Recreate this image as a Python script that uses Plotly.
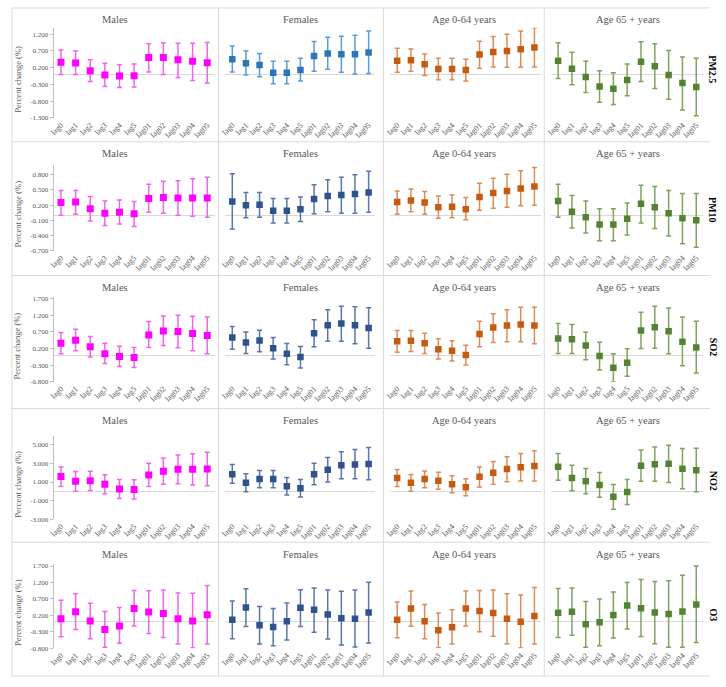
import plotly.graph_objects as go

lags = ["lag0", "lag1", "lag2", "lag3", "lag4", "lag5", "lag01", "lag02", "lag03", "lag04", "lag05"]
groups = ["Males", "Females", "Age 0-64 years", "Age 65 + years"]
pollutants = ["PM2.5", "PM10", "SO2", "NO2", "O3"]

# PM2.5
pm25_males = [0.36, 0.34, 0.11, -0.02, -0.05, -0.04, 0.50, 0.50, 0.44, 0.39, 0.35]
pm25_males_lo = [0.00, 0.00, -0.21, -0.36, -0.39, -0.38, 0.07, 0.00, -0.09, -0.18, -0.26]
pm25_males_hi = [0.73, 0.70, 0.44, 0.33, 0.29, 0.31, 0.91, 0.94, 0.93, 0.93, 0.95]
pm25_females = [0.45, 0.33, 0.28, 0.05, 0.05, 0.13, 0.55, 0.62, 0.60, 0.60, 0.65]
pm25_females_lo = [0.07, -0.02, -0.07, -0.28, -0.28, -0.20, 0.09, 0.15, 0.06, 0.01, 0.03]
pm25_females_hi = [0.85, 0.70, 0.62, 0.39, 0.39, 0.48, 0.98, 1.11, 1.14, 1.17, 1.29]
pm25_age064 = [0.41, 0.42, 0.30, 0.16, 0.16, 0.13, 0.59, 0.67, 0.70, 0.75, 0.80]
pm25_age064_lo = [0.06, 0.09, -0.03, -0.16, -0.16, -0.20, 0.18, 0.22, 0.21, 0.21, 0.22]
pm25_age064_hi = [0.78, 0.76, 0.61, 0.48, 0.48, 0.45, 0.99, 1.13, 1.20, 1.29, 1.39]
pm25_age65 = [0.41, 0.17, -0.08, -0.36, -0.43, -0.17, 0.38, 0.24, -0.02, -0.26, -0.38]
pm25_age65_lo = [-0.12, -0.31, -0.54, -0.83, -0.90, -0.64, -0.21, -0.42, -0.74, -1.06, -1.23]
pm25_age65_hi = [0.94, 0.66, 0.39, 0.11, 0.05, 0.31, 0.97, 0.91, 0.71, 0.52, 0.48]

# PM10
pm10_males = [0.25, 0.26, 0.13, 0.04, 0.06, 0.03, 0.33, 0.35, 0.34, 0.34, 0.34]
pm10_males_lo = [0.00, 0.02, -0.11, -0.20, -0.17, -0.22, 0.06, 0.04, 0.00, -0.02, -0.04]
pm10_males_hi = [0.49, 0.49, 0.37, 0.28, 0.30, 0.27, 0.61, 0.67, 0.68, 0.72, 0.75]
pm10_females = [0.27, 0.20, 0.21, 0.09, 0.09, 0.12, 0.32, 0.38, 0.40, 0.42, 0.45]
pm10_females_lo = [-0.27, -0.05, -0.04, -0.15, -0.15, -0.12, 0.03, 0.07, 0.04, 0.04, 0.06]
pm10_females_hi = [0.82, 0.45, 0.45, 0.33, 0.33, 0.36, 0.60, 0.70, 0.75, 0.80, 0.87]
pm10_age064 = [0.26, 0.29, 0.25, 0.16, 0.17, 0.12, 0.36, 0.44, 0.48, 0.53, 0.57]
pm10_age064_lo = [0.02, 0.07, 0.02, -0.06, -0.05, -0.09, 0.10, 0.14, 0.16, 0.19, 0.20]
pm10_age064_hi = [0.48, 0.52, 0.47, 0.38, 0.40, 0.35, 0.63, 0.73, 0.81, 0.88, 0.94]
pm10_age65 = [0.28, 0.07, -0.04, -0.18, -0.18, -0.07, 0.23, 0.16, 0.04, -0.06, -0.10]
pm10_age65_lo = [-0.04, -0.25, -0.35, -0.50, -0.50, -0.39, -0.15, -0.26, -0.41, -0.56, -0.63]
pm10_age65_hi = [0.61, 0.39, 0.28, 0.13, 0.13, 0.24, 0.59, 0.57, 0.49, 0.43, 0.43]

# SO2
so2_males = [0.36, 0.45, 0.25, 0.04, -0.04, -0.07, 0.61, 0.73, 0.71, 0.65, 0.59]
so2_males_lo = [0.04, 0.13, -0.06, -0.25, -0.34, -0.37, 0.23, 0.29, 0.22, 0.13, 0.04]
so2_males_hi = [0.68, 0.78, 0.56, 0.36, 0.27, 0.23, 1.01, 1.18, 1.20, 1.17, 1.15]
so2_females = [0.53, 0.38, 0.44, 0.21, 0.04, -0.06, 0.66, 0.90, 0.95, 0.90, 0.82]
so2_females_lo = [0.18, 0.05, 0.10, -0.12, -0.29, -0.39, 0.25, 0.42, 0.42, 0.34, 0.21]
so2_females_hi = [0.86, 0.70, 0.75, 0.53, 0.35, 0.26, 1.07, 1.37, 1.47, 1.46, 1.43]
so2_age064 = [0.42, 0.43, 0.36, 0.18, 0.13, 0.00, 0.64, 0.83, 0.89, 0.92, 0.89]
so2_age064_lo = [0.09, 0.11, 0.05, -0.12, -0.18, -0.30, 0.25, 0.38, 0.40, 0.40, 0.34]
so2_age064_hi = [0.74, 0.74, 0.66, 0.49, 0.43, 0.30, 1.02, 1.25, 1.37, 1.44, 1.44]
so2_age65 = [0.50, 0.48, 0.29, -0.03, -0.38, -0.23, 0.74, 0.84, 0.72, 0.40, 0.23]
so2_age65_lo = [0.05, 0.05, -0.14, -0.45, -0.80, -0.64, 0.20, 0.21, 0.04, -0.32, -0.54]
so2_age65_hi = [0.95, 0.92, 0.69, 0.39, 0.04, 0.19, 1.29, 1.47, 1.42, 1.15, 1.02]

# NO2
no2_males = [1.60, 1.07, 1.14, 0.75, 0.26, 0.19, 1.74, 2.16, 2.37, 2.37, 2.40]
no2_males_lo = [0.51, 0.02, 0.09, -0.26, -0.75, -0.82, 0.51, 0.75, 0.82, 0.68, 0.61]
no2_males_hi = [2.61, 2.12, 2.16, 1.77, 1.28, 1.25, 3.00, 3.56, 3.88, 4.02, 4.19]
no2_females = [1.84, 0.93, 1.32, 1.32, 0.54, 0.33, 1.84, 2.30, 2.79, 2.86, 2.93]
no2_females_lo = [0.86, -0.05, 0.40, 0.40, -0.40, -0.61, 0.72, 1.00, 1.35, 1.35, 1.25]
no2_females_hi = [2.86, 1.88, 2.23, 2.23, 1.49, 1.28, 3.00, 3.63, 4.23, 4.47, 4.68]
no2_age064 = [1.42, 0.93, 1.32, 1.14, 0.75, 0.44, 1.56, 1.98, 2.40, 2.58, 2.72]
no2_age064_lo = [0.51, 0.02, 0.40, 0.23, -0.16, -0.47, 0.47, 0.75, 1.04, 1.11, 1.11]
no2_age064_hi = [2.33, 1.81, 2.19, 2.05, 1.67, 1.35, 2.61, 3.18, 3.70, 4.05, 4.33]
no2_age65 = [2.62, 1.43, 1.08, 0.69, -0.57, -0.08, 2.73, 2.91, 2.94, 2.41, 2.27]
no2_age65_lo = [1.19, 0.06, -0.25, -0.64, -1.90, -1.41, 1.08, 1.08, 0.94, 0.27, -0.04]
no2_age65_hi = [4.06, 2.80, 2.45, 2.03, 0.73, 1.26, 4.41, 4.73, 4.94, 4.59, 4.62]

# O3
o3_males = [0.10, 0.31, 0.03, -0.23, -0.12, 0.41, 0.30, 0.26, 0.10, 0.03, 0.22]
o3_males_lo = [-0.45, -0.23, -0.51, -0.77, -0.65, -0.12, -0.35, -0.47, -0.67, -0.79, -0.67]
o3_males_hi = [0.66, 0.86, 0.57, 0.32, 0.44, 0.96, 0.95, 0.97, 0.88, 0.87, 1.11]
o3_females = [0.07, 0.44, -0.10, -0.15, 0.02, 0.43, 0.37, 0.23, 0.11, 0.10, 0.29]
o3_females_lo = [-0.51, -0.14, -0.67, -0.72, -0.55, -0.14, -0.31, -0.52, -0.70, -0.76, -0.64]
o3_females_hi = [0.64, 1.01, 0.47, 0.41, 0.58, 0.98, 1.03, 0.97, 0.93, 0.97, 1.21]
o3_age064 = [0.07, 0.41, 0.02, -0.25, -0.16, 0.41, 0.33, 0.27, 0.10, 0.01, 0.18]
o3_age064_lo = [-0.48, -0.13, -0.51, -0.78, -0.67, -0.12, -0.30, -0.43, -0.66, -0.79, -0.67]
o3_age064_hi = [0.61, 0.94, 0.53, 0.27, 0.37, 0.94, 0.96, 0.97, 0.86, 0.82, 1.05]
o3_age65 = [0.28, 0.31, -0.07, -0.01, 0.21, 0.50, 0.42, 0.29, 0.24, 0.32, 0.53]
o3_age65_lo = [-0.47, -0.40, -0.77, -0.72, -0.49, -0.21, -0.44, -0.66, -0.77, -0.77, -0.62]
o3_age65_hi = [1.02, 1.03, 0.62, 0.70, 0.91, 1.20, 1.29, 1.23, 1.25, 1.42, 1.70]

# y ticks per pollutant row
pm25_ticks = [-1.3, -0.8, -0.3, 0.2, 0.7, 1.2]
pm10_ticks = [-0.7, -0.4, -0.1, 0.2, 0.5, 0.8]
so2_ticks = [-0.8, -0.3, 0.2, 0.7, 1.2, 1.7]
no2_ticks = [-3.0, -1.0, 1.0, 3.0, 5.0]
o3_ticks = [-0.8, -0.3, 0.2, 0.7, 1.2, 1.7]

data = [
    [(pm25_males, pm25_males_lo, pm25_males_hi), (pm25_females, pm25_females_lo, pm25_females_hi),
     (pm25_age064, pm25_age064_lo, pm25_age064_hi), (pm25_age65, pm25_age65_lo, pm25_age65_hi)],
    [(pm10_males, pm10_males_lo, pm10_males_hi), (pm10_females, pm10_females_lo, pm10_females_hi),
     (pm10_age064, pm10_age064_lo, pm10_age064_hi), (pm10_age65, pm10_age65_lo, pm10_age65_hi)],
    [(so2_males, so2_males_lo, so2_males_hi), (so2_females, so2_females_lo, so2_females_hi),
     (so2_age064, so2_age064_lo, so2_age064_hi), (so2_age65, so2_age65_lo, so2_age65_hi)],
    [(no2_males, no2_males_lo, no2_males_hi), (no2_females, no2_females_lo, no2_females_hi),
     (no2_age064, no2_age064_lo, no2_age064_hi), (no2_age65, no2_age65_lo, no2_age65_hi)],
    [(o3_males, o3_males_lo, o3_males_hi), (o3_females, o3_females_lo, o3_females_hi),
     (o3_age064, o3_age064_lo, o3_age064_hi), (o3_age65, o3_age65_lo, o3_age65_hi)],
]
row_ticks = [pm25_ticks, pm10_ticks, so2_ticks, no2_ticks, o3_ticks]
row_ranges = [(-1.3, 1.39), (-0.7, 1.0), (-0.8, 1.74), (-3.0, 5.9), (-0.8, 1.76)]

W, H = 726, 687
FONT = "Liberation Serif"

def fx(x):
    return x / W

def fy(y):
    return 1 - y / H

# pixel layout of the panel grid
plot_top = [26, 164, 298, 438, 567]
plot_bot = [117, 251, 383, 522, 652]
col_span = [(49, 211), (222, 373), (388, 540), (550, 703)]
border_y = [6, 141, 276, 410, 545, 680]
border_x = [7, 215, 381, 543]
title_x = [111, 298, 462, 627]
label_y = [68, 210, 348, 483, 618]

marker_colors = ["#FF00FF", "#2F528F", "#C55A11", "#548235"]
error_colors = ["#EE66EE", "#5A76A6", "#DC8C58", "#7FA35F"]

fig = go.Figure()
layout = {}
annotations = []
shapes = []

for r in range(5):
    lo_r, hi_r = row_ranges[r]
    for c in range(4):
        n = r * 4 + c + 1
        est, lo, hi = data[r][c]
        mcol, ecol = marker_colors[c], error_colors[c]
        if r == 0 and c == 1:
            mcol, ecol = "#2E75B6", "#5B9BD5"
        fig.add_trace(go.Scatter(
            x=lags, y=est, mode="markers",
            marker=dict(symbol="square", size=7 if c == 0 else 6.5, color=mcol),
            error_y=dict(type="data", symmetric=False,
                         array=[h - e for h, e in zip(hi, est)],
                         arrayminus=[e - l for e, l in zip(est, lo)],
                         color=ecol, thickness=1.5, width=2.5),
            xaxis=f"x{n}", yaxis=f"y{n}", showlegend=False,
        ))
        x0, x1 = col_span[c]
        layout[f"xaxis{n}"] = dict(
            domain=[fx(x0), fx(x1)], anchor=f"y{n}", type="category",
            range=[-0.5, 10.5], tickangle=-45, showgrid=False, showline=False,
            ticks="", tickfont=dict(family=FONT, size=8, color="#595959"),
        )
        layout[f"yaxis{n}"] = dict(
            domain=[fy(plot_bot[r]), fy(plot_top[r])], anchor=f"x{n}",
            range=[lo_r, hi_r], showgrid=False,
            zeroline=True, zerolinecolor="#D9D9D9", zerolinewidth=1,
            tickvals=row_ticks[r], ticktext=[f"{v:.3f}" for v in row_ticks[r]],
            tickfont=dict(family=FONT, size=7, color="#595959"),
            showticklabels=(c == 0), showline=(c == 0), linecolor="#BFBFBF",
            ticks="outside" if c == 0 else "", ticklen=3, tickcolor="#BFBFBF",
        )
        annotations.append(dict(
            text=groups[c], x=fx(title_x[c]), y=fy(border_y[r] + 12),
            xref="paper", yref="paper", xanchor="center", yanchor="middle",
            showarrow=False, font=dict(family=FONT, size=10.5, color="#595959"),
        ))
    annotations.append(dict(
        text="Percent change (%)", x=fx(13), y=fy((plot_top[r] + plot_bot[r]) / 2 + 6),
        xref="paper", yref="paper", xanchor="center", yanchor="middle",
        showarrow=False, textangle=-90,
        font=dict(family=FONT, size=8.5, color="#595959"),
    ))
    annotations.append(dict(
        text=f"<b>{pollutants[r]}</b>", x=fx(713), y=fy(label_y[r]),
        xref="paper", yref="paper", xanchor="center", yanchor="middle",
        showarrow=False, textangle=90,
        font=dict(family=FONT, size=10, color="#000000"),
    ))

for y in border_y:
    shapes.append(dict(type="line", xref="paper", yref="paper",
                       x0=fx(border_x[0]), x1=fx(710), y0=fy(y), y1=fy(y),
                       line=dict(color="#D9D9D9", width=1)))
for x in border_x:
    shapes.append(dict(type="line", xref="paper", yref="paper",
                       x0=fx(x), x1=fx(x), y0=fy(border_y[0]), y1=fy(border_y[-1]),
                       line=dict(color="#D9D9D9", width=1)))

fig.update_layout(
    width=W, height=H, margin=dict(l=0, r=0, t=0, b=0),
    paper_bgcolor="white", plot_bgcolor="white",
    annotations=annotations, shapes=shapes, **layout,
)
fig.write_html("out.html", config={"displayModeBar": False},
               post_script="document.body.style.margin = '0px';")
